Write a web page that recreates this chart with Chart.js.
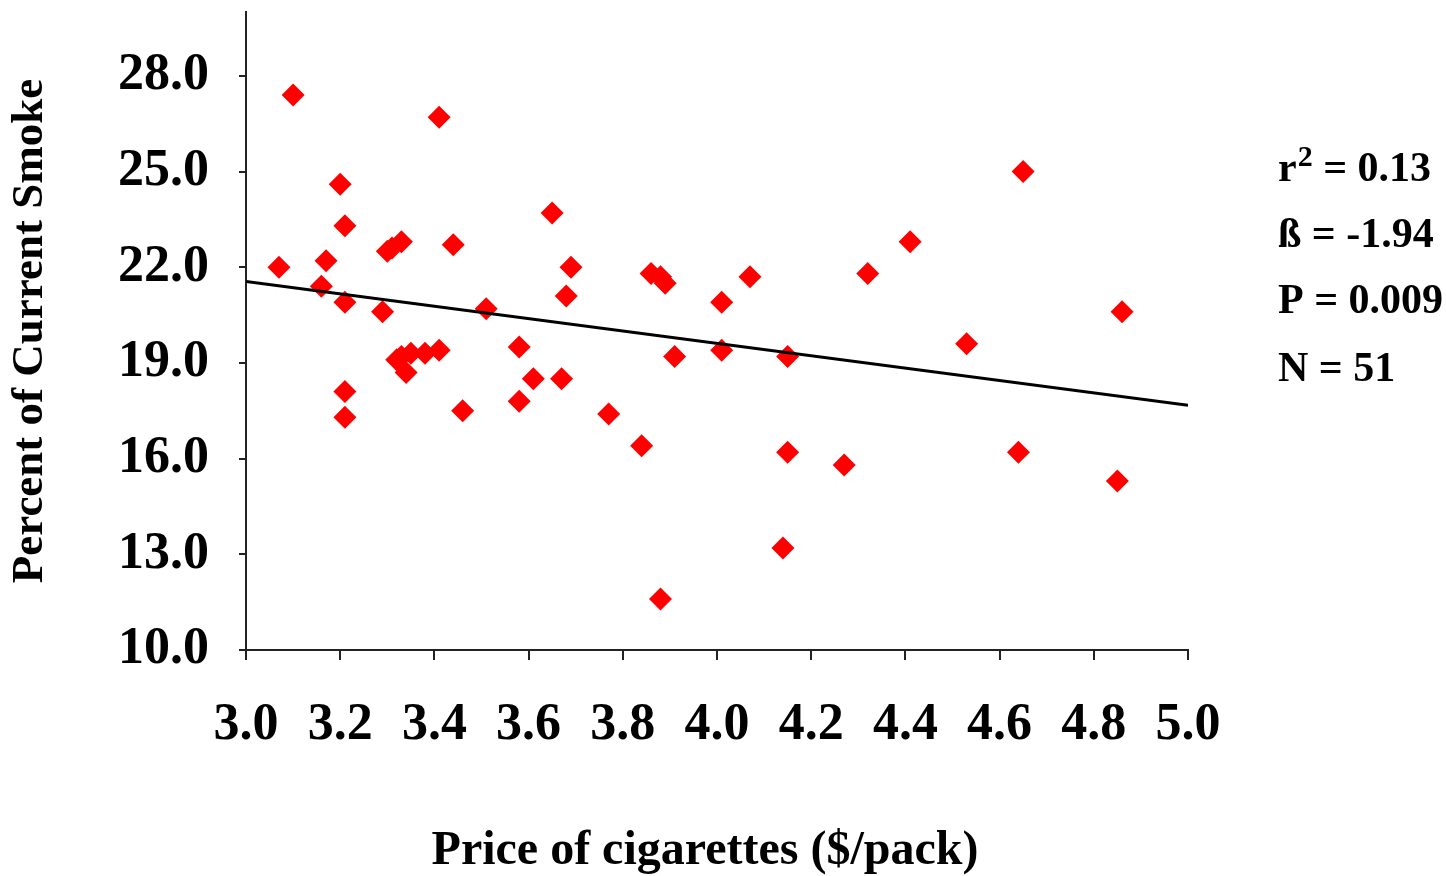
<!DOCTYPE html>
<html>
<head>
<meta charset="utf-8">
<script src="https://cdn.jsdelivr.net/npm/chart.js@4"></script>
<style>
  html, body { margin: 0; padding: 0; background: #fff; }
  #wrap { width: 1446px; height: 876px; }
</style>
</head>
<body>
<div id="wrap"><canvas id="chart" width="1446" height="876"></canvas></div>
<script>
// price per pack ($) and smoking rate (%)
const priceX = [3.07, 3.10, 3.17, 3.16, 3.20, 3.21, 3.21, 3.21, 3.21, 3.29,
                3.30, 3.33, 3.31, 3.32, 3.34, 3.35, 3.38, 3.41, 3.41, 3.44,
                3.46, 3.51, 3.58, 3.58, 3.61, 3.65, 3.67, 3.68, 3.69, 3.77,
                3.84, 3.86, 3.89, 3.88, 3.88, 3.91, 4.01, 4.01, 4.07, 4.15,
                4.14, 4.15, 4.27, 4.32, 4.41, 4.53, 4.64, 4.65, 4.85, 4.86, 3.33];
const smokeY = [22.0, 27.4, 22.2, 21.4, 24.6, 23.3, 20.9, 18.1, 17.3, 20.6,
                22.5, 22.8, 22.6, 19.1, 18.7, 19.3, 19.3, 19.4, 26.7, 22.7,
                17.5, 20.7, 19.5, 17.8, 18.5, 23.7, 18.5, 21.1, 22.0, 17.4,
                16.4, 21.8, 21.5, 21.7, 11.6, 19.2, 20.9, 19.4, 21.7, 16.2,
                13.2, 19.2, 15.8, 21.8, 22.8, 19.6, 16.2, 25.0, 15.3, 20.6, 19.2];

// fitted line, slope -1.94
const trendX = [3.0, 5.0];
const trendY = [21.55, 17.67];

const xTicks = [3.0, 3.2, 3.4, 3.6, 3.8, 4.0, 4.2, 4.4, 4.6, 4.8, 5.0];
const yTicks = [10, 13, 16, 19, 22, 25, 28];

const statLines = [
    { pre: 'r', sup: '2', post: ' = 0.13' },
    { pre: '\u00DF = -1.94' },
    { pre: 'P = 0.009' },
    { pre: 'N = 51' }
];

const FONT = '"Liberation Serif", "Times New Roman", serif';

const points = priceX.map((x, i) => ({ x: x, y: smokeY[i] }));
const trend = trendX.map((x, i) => ({ x: x, y: trendY[i] }));

// stats text at the right of the plot
const statsPlugin = {
    id: 'stats',
    afterDraw(chart) {
        const ctx = chart.ctx;
        const left = 1278;
        const rows = [170, 236, 302, 370];
        ctx.save();
        ctx.fillStyle = '#000';
        ctx.textBaseline = 'middle';
        ctx.textAlign = 'left';
        statLines.forEach((s, i) => {
            let x = left;
            const y = rows[i];
            ctx.font = 'bold 42px ' + FONT;
            ctx.fillText(s.pre, x, y);
            x += ctx.measureText(s.pre).width;
            if (s.sup) {
                ctx.font = 'bold 30px ' + FONT;
                ctx.fillText(s.sup, x + 1, y - 12);
                x += ctx.measureText(s.sup).width + 1;
                ctx.font = 'bold 42px ' + FONT;
                ctx.fillText(s.post, x, y);
            }
        });
        ctx.restore();
    }
};

new Chart(document.getElementById('chart'), {
    type: 'scatter',
    data: {
        datasets: [
            {
                type: 'line',
                data: trend,
                borderColor: '#000',
                borderWidth: 3,
                pointRadius: 0,
                fill: false,
                order: 0
            },
            {
                data: points,
                pointStyle: 'rectRot',
                pointRadius: 11.5,
                backgroundColor: '#ff0000',
                borderColor: '#ff0000',
                borderWidth: 0,
                order: 1
            }
        ]
    },
    options: {
        responsive: false,
        animation: false,
        layout: { padding: { top: 12, right: 258, left: 0, bottom: 0 } },
        plugins: {
            legend: { display: false },
            tooltip: { enabled: false }
        },
        scales: {
            x: {
                type: 'linear',
                min: 3.0,
                max: 5.0,
                afterFit: s => { s.height = 226; s.paddingLeft = 0; s.paddingRight = 0; },
                afterBuildTicks: s => { s.ticks = xTicks.map(v => ({ value: v })); },
                grid: { drawOnChartArea: false, drawTicks: true, tickLength: 10, color: '#222', lineWidth: 2 },
                border: { display: true, color: '#222', width: 2 },
                ticks: {
                    color: '#000',
                    padding: 34,
                    maxRotation: 0,
                    font: { family: FONT, size: 52, weight: 'bold' },
                    callback: v => Number(v).toFixed(1)
                },
                title: {
                    display: true,
                    text: 'Price of cigarettes ($/pack)  ',
                    color: '#000',
                    font: { family: FONT, size: 48, weight: 'bold', lineHeight: 1 },
                    padding: { top: 0, bottom: 0 }
                }
            },
            y: {
                type: 'linear',
                min: 10,
                max: 30,
                afterFit: s => { s.width = 246; s.paddingTop = 0; s.paddingBottom = 0; },
                afterBuildTicks: s => { s.ticks = yTicks.map(v => ({ value: v })); },
                grid: { drawOnChartArea: false, drawTicks: true, tickLength: 7, color: '#222', lineWidth: 2 },
                border: { display: true, color: '#222', width: 2 },
                ticks: {
                    color: '#000',
                    padding: 30,
                    font: { family: FONT, size: 52, weight: 'bold' },
                    callback: v => Number(v).toFixed(1)
                },
                title: {
                    display: true,
                    text: 'Percent of Current Smoke',
                    color: '#000',
                    font: { family: FONT, size: 45, weight: 'bold', lineHeight: 1 },
                    padding: { top: 8, bottom: 0 }
                }
            }
        }
    },
    plugins: [statsPlugin]
});
</script>
</body>
</html>
